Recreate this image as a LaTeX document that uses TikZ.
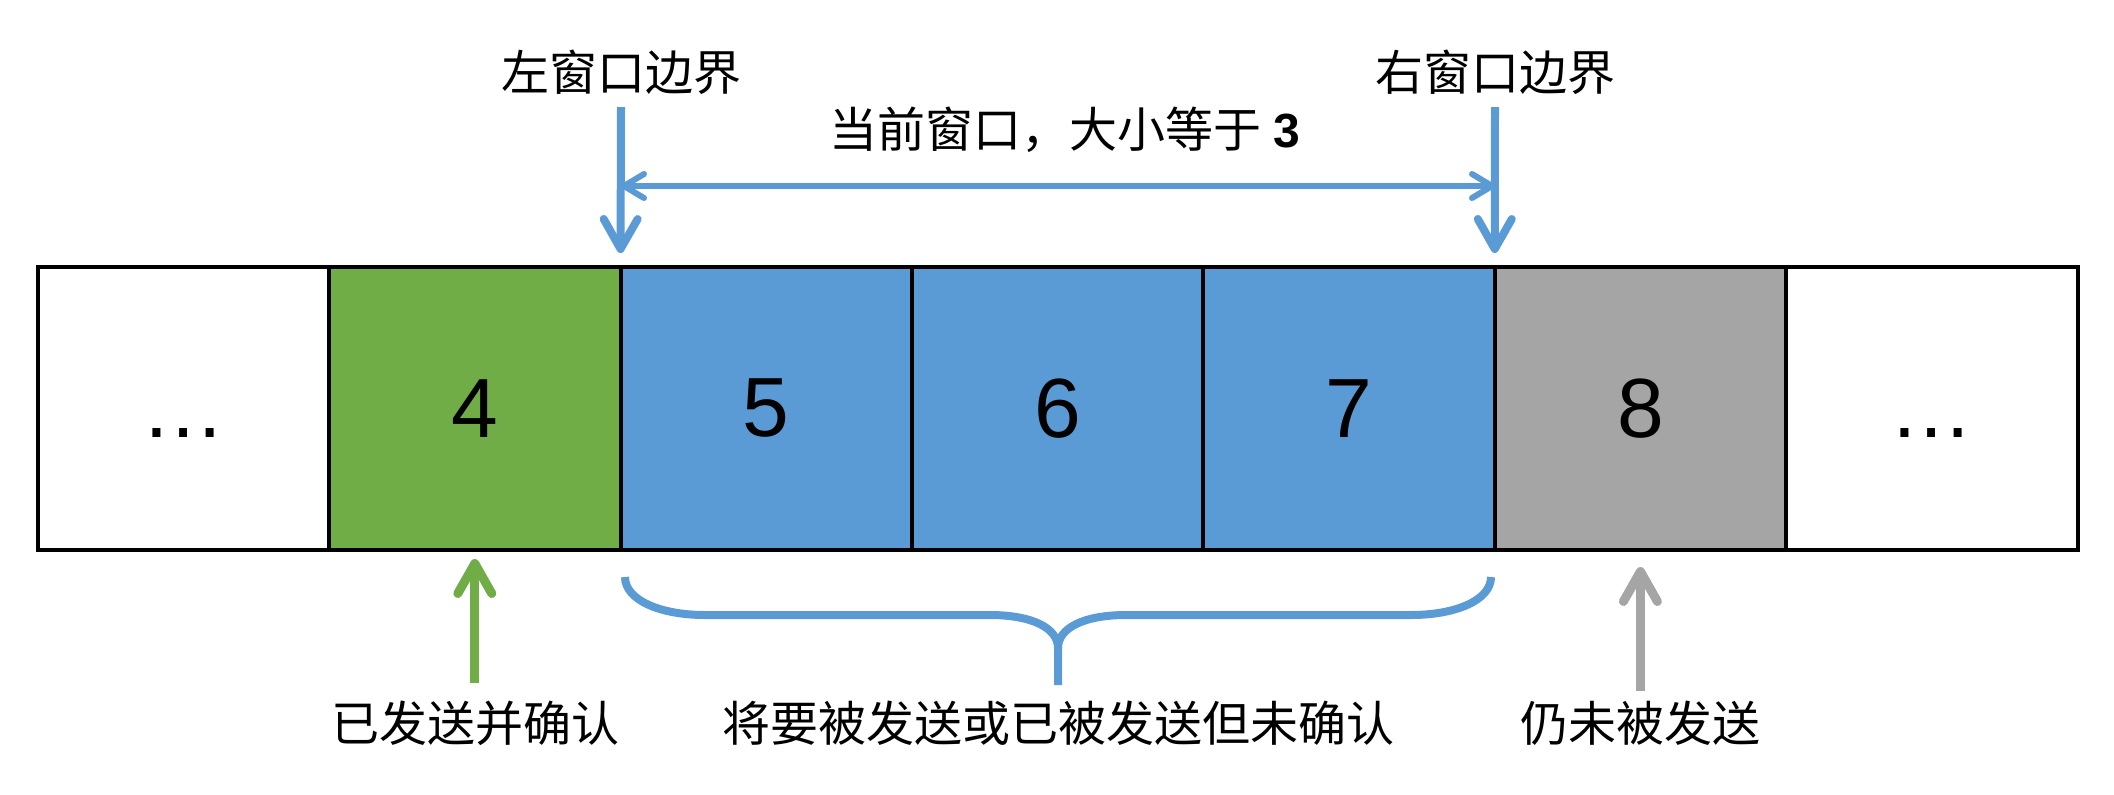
\documentclass[tikz,border=0pt]{standalone}
\usepackage{fontspec}
\setmainfont{Liberation Sans}
\newfontfamily\cjk{Noto Sans CJK SC}
\usetikzlibrary{arrows.meta}
\definecolor{cgreen}{HTML}{70AD47}
\definecolor{cblue}{HTML}{5B9BD5}
\definecolor{cgray}{HTML}{A5A5A5}
\begin{document}
\begin{tikzpicture}[x=0.5pt,y=-0.5pt,
  cell/.style={draw=black, line width=2pt, minimum width=145.7pt, minimum height=141.5pt,
    inner sep=0pt, outer sep=0pt, font=\fontsize{42}{50}\selectfont},
  lbl/.style={anchor=base, inner sep=0pt, font=\cjk\fontsize{24}{28}\selectfont},
  bigarrow/.style={line width=4pt, -{Straight Barb[round,length=15pt,width=17pt]}},
  uparrow/.style={line width=4.5pt, -{Straight Barb[round,length=15pt,width=17pt]}},
  dblarrow/.style={line width=3pt, {Straight Barb[round,length=10pt,width=12pt]}-{Straight Barb[round,length=10pt,width=12pt]}},
  bracepath/.style={line width=4pt, draw=cblue}
]
\useasboundingbox (0,0) rectangle (2114,794);
% cells
\node[cell] (b1) at (183.4,408.5) {\vphantom{4}…};
\node[cell, fill=cgreen] (b2) at (474.8,408.5) {4};
\node[cell, fill=cblue] (b3) at (766.2,408.5) {5};
\node[cell, fill=cblue] (b4) at (1057.6,408.5) {6};
\node[cell, fill=cblue] (b5) at (1349,408.5) {7};
\node[cell, fill=cgray] (b6) at (1640.4,408.5) {8};
\node[cell] (b7) at (1931.8,408.5) {\vphantom{4}…};
% top labels
\node[lbl] (lw) at (621,90) {左窗口边界};
\node[lbl] (rw) at (1495,90) {右窗口边界};
\node[lbl] (cw) at (1065,147) {当前窗口，大小等于\hspace{0.25em}{\rmfamily\bfseries 3}};
% top arrows
\coordinate (lwt) at (621,107);
\coordinate (rwt) at (1495,107);
\coordinate (hl) at (621,186);
\coordinate (hr) at (1495,186);
\draw[bigarrow, cblue, shorten >=7pt] (lwt) -- (b3.north west);
\draw[bigarrow, cblue, shorten >=7pt] (rwt) -- (b6.north west);
\draw[dblarrow, cblue] (hl) -- (hr);
% bottom labels
\node[lbl] (l1) at (475,741) {已发送并确认};
\node[lbl] (l2) at (1058,741) {将要被发送或已被发送但未确认};
\node[lbl] (l3) at (1640,741) {仍未被发送};
% bottom arrows
\coordinate (ga) at (474.8,683);
\coordinate (gy) at (1640.4,691);
\draw[uparrow, cgreen, shorten >=4.5pt] (ga) -- (b2.south);
\draw[uparrow, cgray, shorten >=8.5pt] (gy) -- (b6.south);
% brace
\coordinate (bl) at (625,577);
\coordinate (br) at (1491,577);
\coordinate (bt) at (1058,685);
\draw[bracepath] (bl) .. controls (625,600) and (660,615) .. (705,615)
  -- (990,615) .. controls (1032,615) and (1058,628) .. (1058,648) -- (bt);
\draw[bracepath] (br) .. controls (1491,600) and (1456,615) .. (1411,615)
  -- (1126,615) .. controls (1084,615) and (1058,628) .. (1058,648);
\end{tikzpicture}
\end{document}
